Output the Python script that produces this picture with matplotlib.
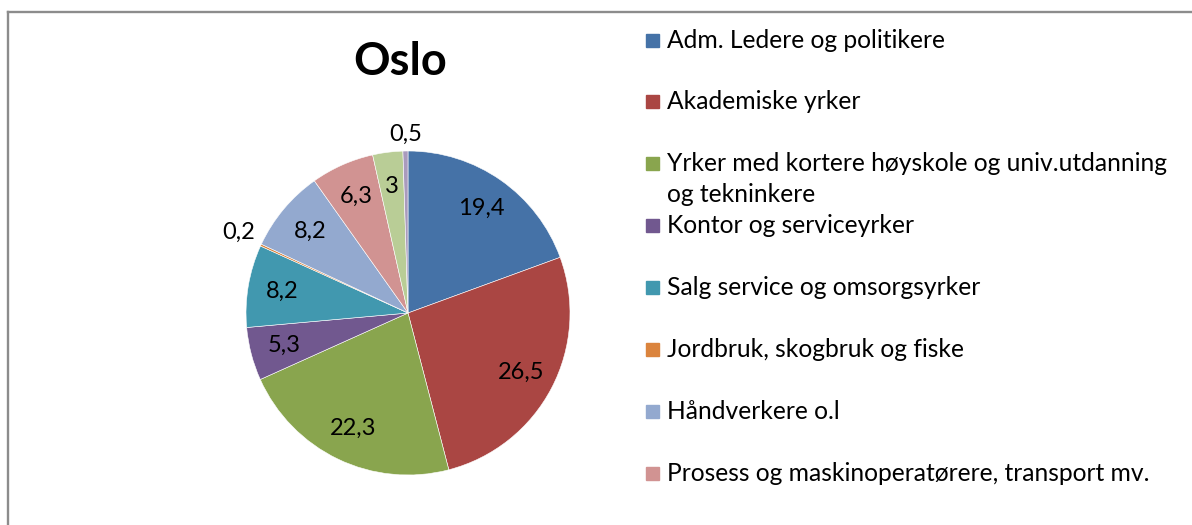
import matplotlib
import matplotlib.pyplot as plt
from matplotlib.lines import Line2D
from matplotlib.patches import Rectangle
import numpy as np

matplotlib.rc('font', family=['Lato', 'DejaVu Sans'])

W, H = 1192, 525

categories = [
    'Adm. Ledere og politikere',
    'Akademiske yrker',
    'Yrker med kortere høyskole og univ.utdanning\nog tekninkere',
    'Kontor og serviceyrker',
    'Salg service og omsorgsyrker',
    'Jordbruk, skogbruk og fiske',
    'Håndverkere o.l',
    'Prosess og maskinoperatørere, transport mv.',
    'Yrker uten krav til utdanning',
    'Militære yrker og uoppgitt',
]
values = [19.4, 26.5, 22.3, 5.3, 8.2, 0.2, 8.2, 6.3, 3, 0.5]
colors = ['#4572A7', '#AA4643', '#89A54E', '#71588F', '#4198AF',
          '#DB843D', '#93A9CF', '#D19392', '#B9CD96', '#A99BBD']
n_legend = 8


def px(x, y):
    # pixel position from the top-left corner -> figure fraction
    return x / W, 1 - y / H


fig = plt.figure(figsize=(W / 100, H / 100), dpi=100)

# chart area border (only top and left edges fall inside the canvas)
fig.add_artist(Line2D([8 / W, 8 / W], [0, 1 - 12 / H], color='#8c8c8c', lw=1.7))
fig.add_artist(Line2D([8 / W, 1], [1 - 12 / H, 1 - 12 / H], color='#8c8c8c', lw=1.7))

cx, cy, r = 408, 313, 162
ax = fig.add_axes([(cx - r) / W, (H - cy - r) / H, 2 * r / W, 2 * r / H])
wedges, _ = ax.pie(values, colors=colors, startangle=90, counterclock=False,
                   wedgeprops=dict(linewidth=0.4, edgecolor='white'))
ax.set_xlim(-1, 1)
ax.set_ylim(-1, 1)

for w, v in zip(wedges, values):
    ang = np.deg2rad((w.theta1 + w.theta2) / 2)
    c, s = np.cos(ang), np.sin(ang)
    txt = ('%g' % v).replace('.', ',')
    if v >= 1:
        ax.text(0.79 * c, 0.79 * s, txt, ha='center', va='center', fontsize=17)
    else:
        ha = 'right' if c < -0.3 else ('left' if c > 0.3 else 'center')
        va = 'bottom' if s > 0.3 else ('top' if s < -0.3 else 'center')
        ax.text(1.04 * c, 1.04 * s, txt, ha=ha, va=va, fontsize=17)

fig.text(*px(400, 62), 'Oslo', ha='center', va='center', fontsize=32.5, fontweight='bold')

# legend, one row every 62 px
for i in range(n_legend):
    y = 40 + 61.9 * i
    fig.add_artist(Rectangle(px(646, y + 6.5), 13 / W, 13 / H, color=colors[i],
                             transform=fig.transFigure))
    for k, line in enumerate(categories[i].split('\n')):
        fig.text(*px(667, y + 31 * k), line, ha='left', va='center', fontsize=17.7)

plt.savefig('out.png', dpi=100)
